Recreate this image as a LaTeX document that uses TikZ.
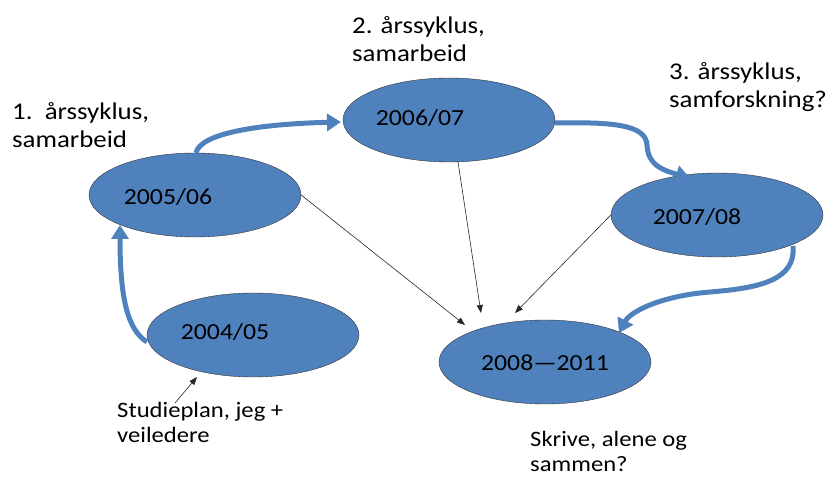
\documentclass[tikz,border=0pt]{standalone}
\usepackage{fontspec}
\setmainfont{Carlito}[FakeStretch=1.12]
\usetikzlibrary{shapes.geometric,arrows.meta}
\definecolor{cyclblue}{RGB}{79,129,189}

\begin{document}
\begin{tikzpicture}[x=1pt,y=-1pt,
  year/.style={ellipse,draw=black!80,fill=cyclblue,minimum width=212pt,minimum height=84pt,inner sep=0pt},
  yeartext/.style={inner sep=0pt,font=\fontsize{23}{28}\selectfont},
  note/.style={anchor=base west,align=left,inner sep=0pt,font=\fontsize{24}{28}\selectfont},
  smallnote/.style={anchor=base west,align=left,inner sep=0pt,font=\fontsize{22}{25}\selectfont},
  bigarrow/.style={cyclblue,line width=5pt,-{Triangle[length=14pt,width=17pt]}},
  thinarrow/.style={black!85,line width=0.6pt,-{Triangle[length=8pt,width=6pt]}}]
\useasboundingbox (0,0) rectangle (839,478);

\node[year] (e0506) at (195,195) {};
\node[year] (e0607) at (449,120) {};
\node[year] (e0708) at (717,215) {};
\node[year] (e0811) at (545,362) {};
\node[year] (e0405) at (253,335) {};

\node[yeartext] (t0506) at (168,197) {2005/06};
\node[yeartext] (t0607) at (420,118) {2006/07};
\node[yeartext] (t0708) at (697,217) {2007/08};
\node[yeartext] (t0811) at (545,363) {2008---2011};
\node[yeartext] (t0405) at (225,332) {2004/05};

% labels
\node[note] (l1) at (12,148) {1.\ \ årssyklus,\\samarbeid};
\node[note] (l2) at (352,62) {2. årssyklus,\\samarbeid};
\node[note] (l3) at (669,108) {3. årssyklus,\\samforskning?};
\node[smallnote] (l4) at (117,443) {Studieplan, jeg +\\veiledere};
\node[smallnote] (l5) at (530,472) {Skrive, alene og\\sammen?};

% cycle
\coordinate (c1) at (147,342);
\coordinate (c2) at (120,225);
\draw[bigarrow] (c1) .. controls (128,330) and (120,300) .. (c2);
\coordinate (c3) at (196,153);
\coordinate (c4) at (341,122);
\draw[bigarrow] (c3) .. controls (200,133) and (260,124) .. (c4);
\coordinate (c5) at (555,123);
\coordinate (c6) at (690,178);
\draw[bigarrow] (c5) .. controls (610,122) and (646,124) .. (647,145) .. controls (648,165) and (662,170) .. (c6);
\coordinate (c7) at (793,246);
\coordinate (c8) at (619,333);
\draw[bigarrow] (c7) .. controls (796,280) and (760,288) .. (710,292) .. controls (660,296) and (630,312) .. (c8);

% into the last period
\coordinate (i1) at (465,325);
\coordinate (i2) at (481,313);
\coordinate (i3) at (515,313);
\coordinate (i4) at (197,377);
\draw[thinarrow] (e0506.east) -- (i1);
\draw[thinarrow] (458,162) -- (i2);
\draw[thinarrow] (e0708.west) -- (i3);
\draw[thinarrow] (175,403) -- (i4);
\end{tikzpicture}
\end{document}
